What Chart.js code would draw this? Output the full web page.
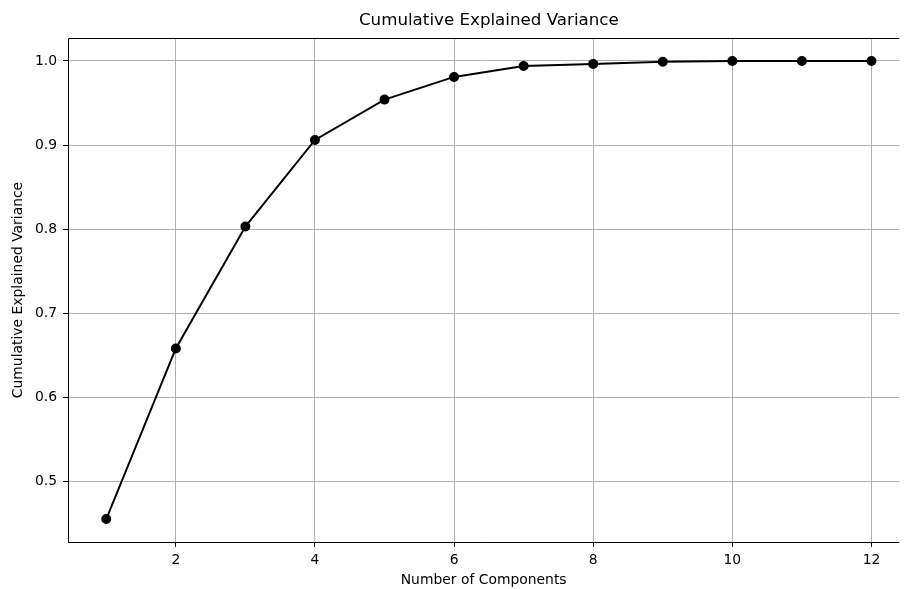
<!DOCTYPE html>
<html>
<head>
<meta charset="utf-8">
<script src="https://cdn.jsdelivr.net/npm/chart.js@4.4.1/dist/chart.umd.min.js"></script>
<style>
  html, body { margin: 0; padding: 0; background: #fff; overflow: hidden; }
  #wrap { width: 905px; height: 589px; }
</style>
</head>
<body>
<div id="wrap"><canvas id="chart" width="905" height="589"></canvas></div>
<script>
// components and cumulative explained variance
const components = [1, 2, 3, 4, 5, 6, 7, 8, 9, 10, 11, 12];
const cumVariance = [0.455, 0.658, 0.803, 0.906, 0.954, 0.981, 0.994, 0.9965, 0.999, 1.0, 1.0, 1.0];
const xTicks = [2, 4, 6, 8, 10, 12];
const yTicks = [0.5, 0.6, 0.7, 0.8, 0.9, 1.0];

const FONT = "'DejaVu Sans', sans-serif";

// axes frame + title centred on the (cropped) axes, matplotlib style
const frame = {
  id: 'frame',
  afterDraw(chart) {
    const { ctx, chartArea: a } = chart;
    ctx.save();
    ctx.strokeStyle = '#000';
    ctx.lineWidth = 1;
    ctx.beginPath();
    ctx.moveTo(a.left + 0.5, a.bottom + 0.5);
    ctx.lineTo(a.left + 0.5, a.top + 0.5);
    ctx.lineTo(a.right, a.top + 0.5);
    ctx.moveTo(a.left, a.bottom + 0.5);
    ctx.lineTo(a.right, a.bottom + 0.5);
    ctx.stroke();
    ctx.fillStyle = '#000';
    ctx.font = '16.7px ' + FONT;
    ctx.textAlign = 'center';
    ctx.textBaseline = 'middle';
    ctx.fillText('Cumulative Explained Variance', chart.scales.x.getPixelForValue(6.5), 21);
    ctx.restore();
  }
};

new Chart(document.getElementById('chart').getContext('2d'), {
  type: 'line',
  data: {
    datasets: [{
      data: components.map((c, i) => ({ x: c, y: cumVariance[i] })),
      borderColor: '#000',
      backgroundColor: '#000',
      borderWidth: 2,
      pointRadius: 4.3,
      pointHoverRadius: 4.3,
      pointBorderWidth: 1.4,
      pointBorderColor: '#000',
      tension: 0
    }]
  },
  options: {
    responsive: false,
    animation: false,
    events: [],
    layout: { padding: { top: 38, right: 0, left: 0, bottom: 0 } },
    plugins: { legend: { display: false }, tooltip: { enabled: false }, title: { display: false } },
    scales: {
      x: {
        type: 'linear',
        min: 0.45,
        max: 12.40,
        afterBuildTicks: s => { s.ticks = xTicks.map(v => ({ value: v })); },
        afterFit: s => { s.height = 47; },
        grid: { color: '#b0b0b0', lineWidth: 1, tickLength: 5, tickColor: '#000', drawTicks: true },
        border: { display: false },
        ticks: { color: '#000', font: { family: FONT, size: 13.9 }, padding: 5, maxRotation: 0 },
        title: { display: true, text: 'Number of Components', color: '#000',
                 font: { family: FONT, size: 13.9 }, padding: { top: 3, bottom: 0 } }
      },
      y: {
        min: 0.4277,
        max: 1.0273,
        afterBuildTicks: s => { s.ticks = yTicks.map(v => ({ value: v })); },
        afterFit: s => { s.width = 68; },
        grid: { color: '#b0b0b0', lineWidth: 1, tickLength: 5, tickColor: '#000', drawTicks: true },
        border: { display: false },
        ticks: { color: '#000', font: { family: FONT, size: 13.9 }, padding: 6,
                 callback: v => v.toFixed(1) },
        title: { display: true, text: 'Cumulative Explained Variance', color: '#000',
                 font: { family: FONT, size: 13.9 }, padding: { top: 10, bottom: 4 } }
      }
    }
  },
  plugins: [frame]
});
</script>
</body>
</html>
